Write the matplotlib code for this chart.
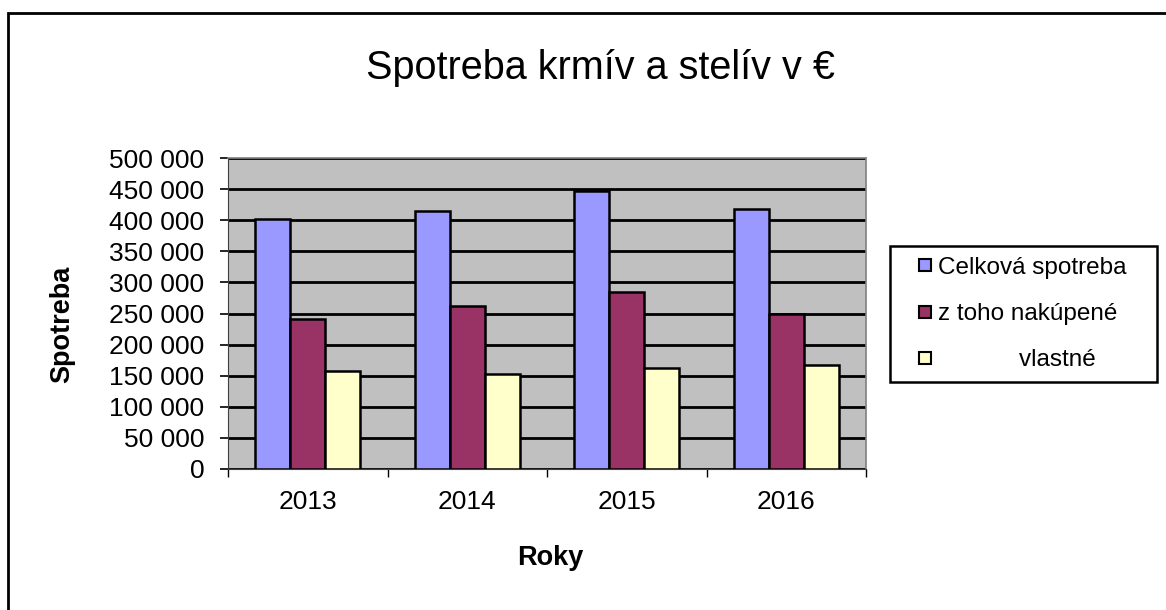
import numpy as np
import matplotlib.pyplot as plt
from matplotlib.patches import Rectangle
from matplotlib.lines import Line2D
from matplotlib.ticker import FuncFormatter, MultipleLocator, FixedLocator

plt.rcParams['font.family'] = ['Liberation Sans', 'DejaVu Sans']

years = ['2013', '2014', '2015', '2016']
celkova = [402000, 414000, 447000, 418000]
nakupene = [241000, 262000, 284000, 249000]
vlastne = [158000, 152000, 162000, 168000]

labels = ['Celková spotreba', 'z toho nakúpené', '            vlastné']
colors = ['#9999FF', '#993366', '#FFFFCC']

W, H = 1166, 610
fig = plt.figure(figsize=(W / 100, H / 100), dpi=100)
ax = fig.add_axes([228 / W, 1 - 469 / H, (866 - 228) / W, (469 - 158) / H])
ax.set_facecolor('#C0C0C0')

x = np.arange(len(years))
bw = 0.22
for i, (vals, c) in enumerate(zip([celkova, nakupene, vlastne], colors)):
    ax.bar(x + (i - 1) * bw, vals, bw, color=c, edgecolor='black',
           linewidth=1.8, zorder=3)

ax.set_xlim(-0.5, len(years) - 0.5)
ax.set_ylim(0, 500000)
ax.yaxis.set_major_locator(MultipleLocator(50000))
ax.yaxis.set_major_formatter(FuncFormatter(lambda v, p: f'{int(v):,}'.replace(',', ' ')))
ax.grid(axis='y', color='black', linewidth=2, zorder=1)
ax.set_axisbelow(True)

# ticks between categories, labels at centers
ax.xaxis.set_major_locator(FixedLocator(np.arange(-0.5, len(years), 1.0)))
ax.xaxis.set_major_formatter(FuncFormatter(lambda v, p: ''))
ax.set_xticks(x, years, minor=True)
ax.tick_params(axis='x', which='major', length=6, width=1, direction='out', color='black')
ax.tick_params(axis='x', which='minor', length=0, pad=15, labelsize=19)
ax.tick_params(axis='y', length=6, width=1.2, direction='out', pad=11, labelsize=19)

for s in ['top', 'right']:
    ax.spines[s].set_color('#808080')
    ax.spines[s].set_linewidth(1.2)
ax.spines['left'].set_color('#404040')
ax.spines['bottom'].set_color('#404040')

fig.text(600 / W, 1 - 68 / H, 'Spotreba krmív a stelív v €', fontsize=28.5,
         ha='center', va='center')
fig.text(62 / W, 1 - 324 / H, 'Spotreba', fontsize=19.5, fontweight='bold',
         rotation=90, ha='center', va='center')
fig.text(550 / W, 1 - 558 / H, 'Roky', fontsize=19.5, fontweight='bold',
         ha='center', va='center')

handles = [Line2D([], [], ls='none', marker='s', ms=9, mfc=c, mec='black', mew=1.5)
           for c in colors]
leg = fig.legend(handles, labels, loc='center', mode='expand',
                 bbox_to_anchor=(890 / W, 1 - 384 / H, 267 / W, 140 / H),
                 fontsize=17.5, frameon=True, fancybox=False, framealpha=1,
                 handlelength=2.0, handletextpad=-0.48,
                 labelspacing=0.99, borderpad=0.45, borderaxespad=0)
leg.get_frame().set_edgecolor('black')
leg.get_frame().set_linewidth(1.8)

# outer chart frame (right and bottom edges are cut off in the picture)
fig.patches.append(Rectangle((8 / W, -0.1), 1.2, 1 - 13 / H + 0.1,
                             transform=fig.transFigure, fill=False,
                             edgecolor='black', linewidth=2))

fig.savefig('out.png', dpi=100)
